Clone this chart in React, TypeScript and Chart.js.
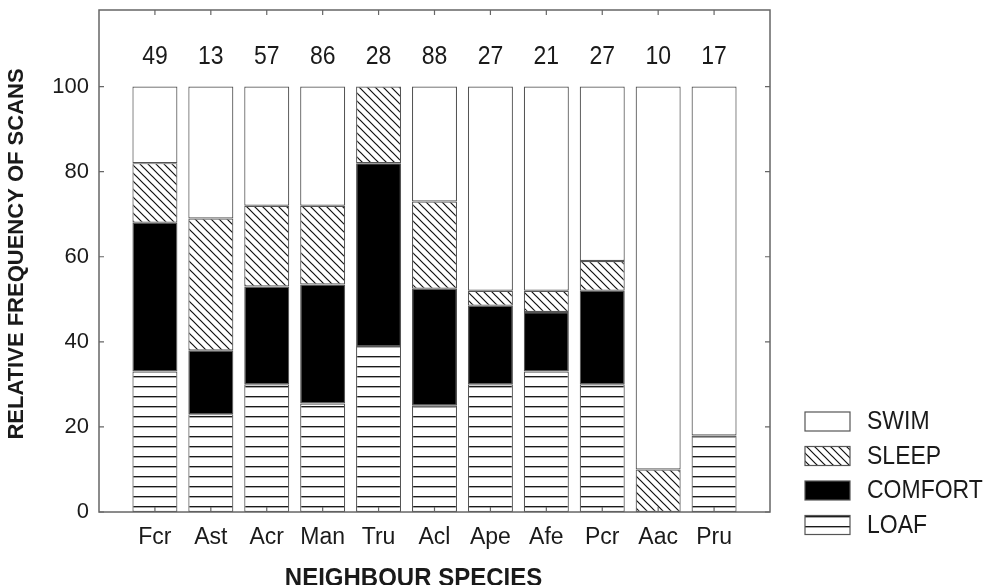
import React, { useEffect, useRef } from 'react';
import { Chart, registerables } from 'chart.js';

Chart.register(...registerables);

const categories = ['Fcr', 'Ast', 'Acr', 'Man', 'Tru', 'Acl', 'Ape', 'Afe', 'Pcr', 'Aac', 'Pru'];
const sampleSizes = [49, 13, 57, 86, 28, 88, 27, 21, 27, 10, 17];
const loaf = [33, 23, 30, 25.5, 39, 25, 30, 33, 30, 0, 18];
const comfort = [35, 15, 23, 28, 43, 27.5, 18.5, 14, 22, 0, 0];
const sleep = [14, 31, 19, 18.5, 18, 20.5, 3.5, 5, 7, 10, 0];
const swim = [18, 31, 28, 28, 0, 27, 48, 48, 41, 90, 82];
const seriesLabels = ['LOAF', 'COMFORT', 'SLEEP', 'SWIM'];
const xTitle = 'NEIGHBOUR SPECIES';
const yTitle = 'RELATIVE FREQUENCY OF SCANS';
const yMax = 118;
const yTickStep = 20;
const sampleLabelLevel = 107;

const FONT = "'Liberation Sans', Arial, Helvetica, sans-serif";
const TEXT = '#1a1a1a';
const EDGE = '#555555';

function makeLoafPattern(): CanvasPattern | string {
  const c = document.createElement('canvas');
  c.width = 10;
  c.height = 10;
  const g = c.getContext('2d');
  if (!g) return '#fff';
  g.fillStyle = '#ffffff';
  g.fillRect(0, 0, 10, 10);
  g.fillStyle = '#1a1a1a';
  g.fillRect(0, 6, 10, 1);
  g.fillStyle = 'rgba(0,0,0,0.35)';
  g.fillRect(0, 7, 10, 1);
  return g.createPattern(c, 'repeat') || '#fff';
}

function makeSleepPattern(): CanvasPattern | string {
  const s = 8;
  const c = document.createElement('canvas');
  c.width = s;
  c.height = s;
  const g = c.getContext('2d');
  if (!g) return '#fff';
  g.fillStyle = '#ffffff';
  g.fillRect(0, 0, s, s);
  g.strokeStyle = '#111111';
  g.lineWidth = 1.2;
  g.beginPath();
  g.moveTo(-1, -1);
  g.lineTo(s + 1, s + 1);
  g.moveTo(-1, s - 1);
  g.lineTo(1, s + 1);
  g.moveTo(s - 1, -1);
  g.lineTo(s + 1, 1);
  g.stroke();
  return g.createPattern(c, 'repeat') || '#fff';
}

function stretchedText(ctx: CanvasRenderingContext2D, text: string, x: number, y: number, sy: number) {
  ctx.save();
  ctx.translate(x, y);
  ctx.scale(1, sy);
  ctx.fillText(text, 0, 0);
  ctx.restore();
}

const decorPlugin = {
  id: 'decor',
  afterDatasetsDraw(chart: any) {
    const { ctx, chartArea: a, scales } = chart;
    const x = scales.x;
    const y = scales.y;
    ctx.save();
    // frame
    ctx.strokeStyle = '#666666';
    ctx.lineWidth = 1.5;
    ctx.strokeRect(a.left, a.top, a.right - a.left, a.bottom - a.top);
    // inward tick marks
    const tl = 5;
    ctx.lineWidth = 1.2;
    ctx.beginPath();
    y.ticks.forEach((t: any) => {
      const py = y.getPixelForValue(t.value);
      ctx.moveTo(a.left, py);
      ctx.lineTo(a.left + tl, py);
      ctx.moveTo(a.right, py);
      ctx.lineTo(a.right - tl, py);
    });
    categories.forEach((_, i) => {
      const px = x.getPixelForValue(i + 1);
      ctx.moveTo(px, a.top);
      ctx.lineTo(px, a.top + tl);
      ctx.moveTo(px, a.bottom);
      ctx.lineTo(px, a.bottom - tl);
    });
    ctx.stroke();
    // sample sizes
    ctx.fillStyle = TEXT;
    ctx.font = `23px ${FONT}`;
    ctx.textAlign = 'center';
    ctx.textBaseline = 'middle';
    sampleSizes.forEach((n, i) => {
      stretchedText(ctx, String(n), x.getPixelForValue(i + 1), y.getPixelForValue(sampleLabelLevel), 1.12);
    });
    ctx.restore();
  },
  afterDraw(chart: any) {
    const { ctx, chartArea: a } = chart;
    ctx.save();
    // axis titles
    ctx.fillStyle = TEXT;
    ctx.textAlign = 'center';
    ctx.textBaseline = 'middle';
    ctx.font = `bold 24px ${FONT}`;
    stretchedText(ctx, xTitle, (a.left + a.right) / 2 - 21, a.bottom + 67, 1.05);
    ctx.save();
    ctx.translate(17, (a.top + a.bottom) / 2 - 7);
    ctx.rotate(-Math.PI / 2);
    ctx.font = `bold 22px ${FONT}`;
    ctx.fillText(yTitle, 0, 0);
    ctx.restore();
    // legend (top to bottom: reversed stacking order)
    const ds = chart.data.datasets.slice().reverse();
    const bx = a.right + 35;
    const by0 = 412;
    const step = 34.5;
    ds.forEach((d: any, i: number) => {
      const by = by0 + i * step;
      ctx.fillStyle = d.backgroundColor;
      ctx.fillRect(bx, by, 45, 19);
      ctx.strokeStyle = EDGE;
      ctx.lineWidth = 1.2;
      ctx.strokeRect(bx, by, 45, 19);
      ctx.fillStyle = TEXT;
      ctx.font = `23px ${FONT}`;
      ctx.textAlign = 'left';
      ctx.textBaseline = 'middle';
      stretchedText(ctx, d.label, bx + 62, by + 10.5, 1.1);
    });
    ctx.restore();
  },
};

export default function App() {
  const ref = useRef<HTMLCanvasElement | null>(null);

  useEffect(() => {
    const canvas = ref.current;
    if (!canvas) return;
    Chart.defaults.font.family = FONT;
    Chart.defaults.color = TEXT;
    const loafFill = makeLoafPattern();
    const sleepFill = makeSleepPattern();
    const fills = [loafFill, '#000000', sleepFill, '#ffffff'];
    const series = [loaf, comfort, sleep, swim];
    const chart = new Chart(canvas, {
      type: 'bar',
      data: {
        datasets: series.map((vals, k) => ({
          label: seriesLabels[k],
          data: vals.map((v, i) => ({ x: i + 1, y: v })),
          backgroundColor: fills[k] as any,
          borderColor: EDGE,
          borderWidth: 1.2,
          borderSkipped: false,
          categoryPercentage: 1,
          barPercentage: 0.805,
        })),
      },
      options: {
        responsive: false,
        animation: false,
        events: [],
        layout: { padding: { left: 0, top: 10, right: 225, bottom: 0 } },
        plugins: {
          legend: { display: false },
          tooltip: { enabled: false },
          title: { display: false },
        },
        scales: {
          x: {
            type: 'linear',
            stacked: true,
            offset: false,
            min: 0,
            max: categories.length + 1,
            grid: { display: false, drawTicks: false },
            border: { display: false },
            ticks: {
              stepSize: 1,
              autoSkip: false,
              maxRotation: 0,
              padding: 12,
              font: { size: 23 },
              color: TEXT,
              callback: (v: any) => {
                const i = Math.round(Number(v)) - 1;
                return categories[i] ?? '';
              },
            },
            afterFit: (s: any) => {
              s.height = 73;
              s.paddingLeft = 0;
              s.paddingRight = 0;
            },
          },
          y: {
            type: 'linear',
            stacked: true,
            min: 0,
            max: yMax,
            grid: { display: false, drawTicks: false },
            border: { display: false },
            ticks: {
              stepSize: yTickStep,
              includeBounds: false,
              padding: 10,
              font: { size: 22 },
              color: TEXT,
            },
            afterFit: (s: any) => {
              s.width = 99;
              s.paddingTop = 0;
              s.paddingBottom = 0;
            },
          },
        },
      },
      plugins: [decorPlugin],
    });
    return () => chart.destroy();
  }, []);

  return (
    <div style={{ position: 'absolute', left: 0, top: 0, width: 995, height: 585, background: '#fff' }}>
      <canvas ref={ref} width={995} height={585} style={{ display: 'block' }} />
    </div>
  );
}
